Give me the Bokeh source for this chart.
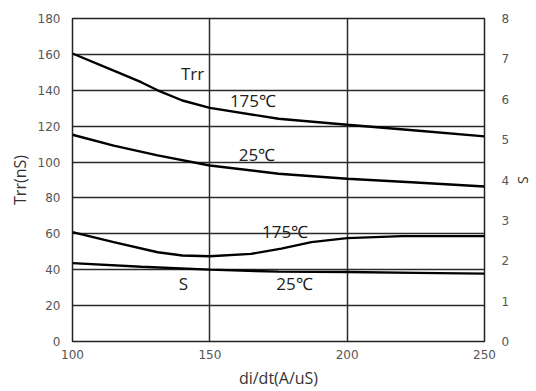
from bokeh.plotting import figure
from bokeh.models import Range1d, LinearAxis, FixedTicker, Label
from bokeh.embed import file_html
from bokeh.resources import INLINE

# di/dt values (A/us)
trr_175_x = [100, 115, 125, 131, 140, 150, 175, 200, 225, 250]
trr_175_y = [160.5, 151, 144.5, 140, 134.3, 130.2, 124.1, 120.8, 117.6, 114.3]

trr_25_x = [100, 115, 131, 150, 175, 200, 225, 250]
trr_25_y = [115.2, 109.2, 103.7, 98.1, 93.5, 90.7, 88.6, 86.4]

s_175_x = [100, 115, 131, 140, 150, 165, 176, 187, 200, 220, 250]
s_175_y = [2.71, 2.46, 2.21, 2.13, 2.11, 2.17, 2.30, 2.46, 2.56, 2.61, 2.61]

s_25_x = [100, 125, 150, 175, 200, 225, 250]
s_25_y = [1.94, 1.85, 1.78, 1.73, 1.72, 1.70, 1.68]

x_ticks = [100, 150, 200, 250]
trr_ticks = [0, 20, 40, 60, 80, 100, 120, 140, 160, 180]
s_ticks = [0, 1, 2, 3, 4, 5, 6, 7, 8]

TICK_FONT = "DejaVu Sans"
TEXT_FONT = "Open Sans"

p = figure(width=536, height=391, output_backend="svg", toolbar_location=None,
           x_range=Range1d(100, 250), y_range=Range1d(0, 180),
           min_border_left=72, min_border_right=52, min_border_top=18, min_border_bottom=50)
p.extra_y_ranges = {"s": Range1d(0, 8)}

p.outline_line_color = "#222222"
p.outline_line_width = 1.5
p.background_fill_color = "white"
p.border_fill_color = "white"

# grid
p.xaxis.ticker = FixedTicker(ticks=x_ticks)
p.yaxis.ticker = FixedTicker(ticks=trr_ticks)
for g in (p.xgrid, p.ygrid):
    g.grid_line_color = "#2a2a2a"
    g.grid_line_width = 1.5

def style_axis(ax):
    ax.axis_line_color = None
    ax.major_tick_line_color = None
    ax.minor_tick_line_color = None
    ax.major_tick_out = 0
    ax.major_tick_in = 0
    ax.minor_tick_out = 0
    ax.minor_tick_in = 0
    ax.major_label_text_color = "#555555"
    ax.major_label_text_font = TICK_FONT
    ax.major_label_text_font_size = "12px"
    ax.axis_label_text_font = TEXT_FONT
    ax.axis_label_text_font_style = "normal"
    ax.axis_label_text_font_size = "16px"
    ax.axis_label_text_color = "#333333"

style_axis(p.xaxis[0])
style_axis(p.yaxis[0])
p.xaxis.axis_label = "di/dt(A/uS)"
p.xaxis.major_label_standoff = 8
p.xaxis.axis_label_standoff = 5
p.yaxis.axis_label = "Trr(nS)"
p.yaxis.major_label_standoff = 12
p.yaxis.axis_label_standoff = 4

s_axis = LinearAxis(y_range_name="s", ticker=FixedTicker(ticks=s_ticks), axis_label="S")
style_axis(s_axis)
s_axis.axis_label_text_font_size = "14px"
s_axis.major_label_standoff = 17
s_axis.axis_label_standoff = 2
p.add_layout(s_axis, "right")

# curves
lw = 2.4
p.line(trr_175_x, trr_175_y, line_color="black", line_width=lw)
p.line(trr_25_x, trr_25_y, line_color="black", line_width=lw)
p.line(s_175_x, s_175_y, line_color="black", line_width=lw, y_range_name="s")
p.line(s_25_x, s_25_y, line_color="black", line_width=lw, y_range_name="s")

# curve annotations
notes = [
    ("Trr", 143.7, 149.4),
    ("175℃", 165.7, 134.3),
    ("25℃", 167.2, 104.2),
    ("175℃", 177.4, 61.3),
    ("25℃", 180.8, 32.2),
    ("S", 140.4, 32.3),
]
for txt, x, y in notes:
    p.add_layout(Label(x=x, y=y, text=txt, text_align="center", text_baseline="middle",
                       text_font=TEXT_FONT, text_font_size="17px", text_color="#222222"))

open("out.html", "w").write(file_html(p, INLINE))
